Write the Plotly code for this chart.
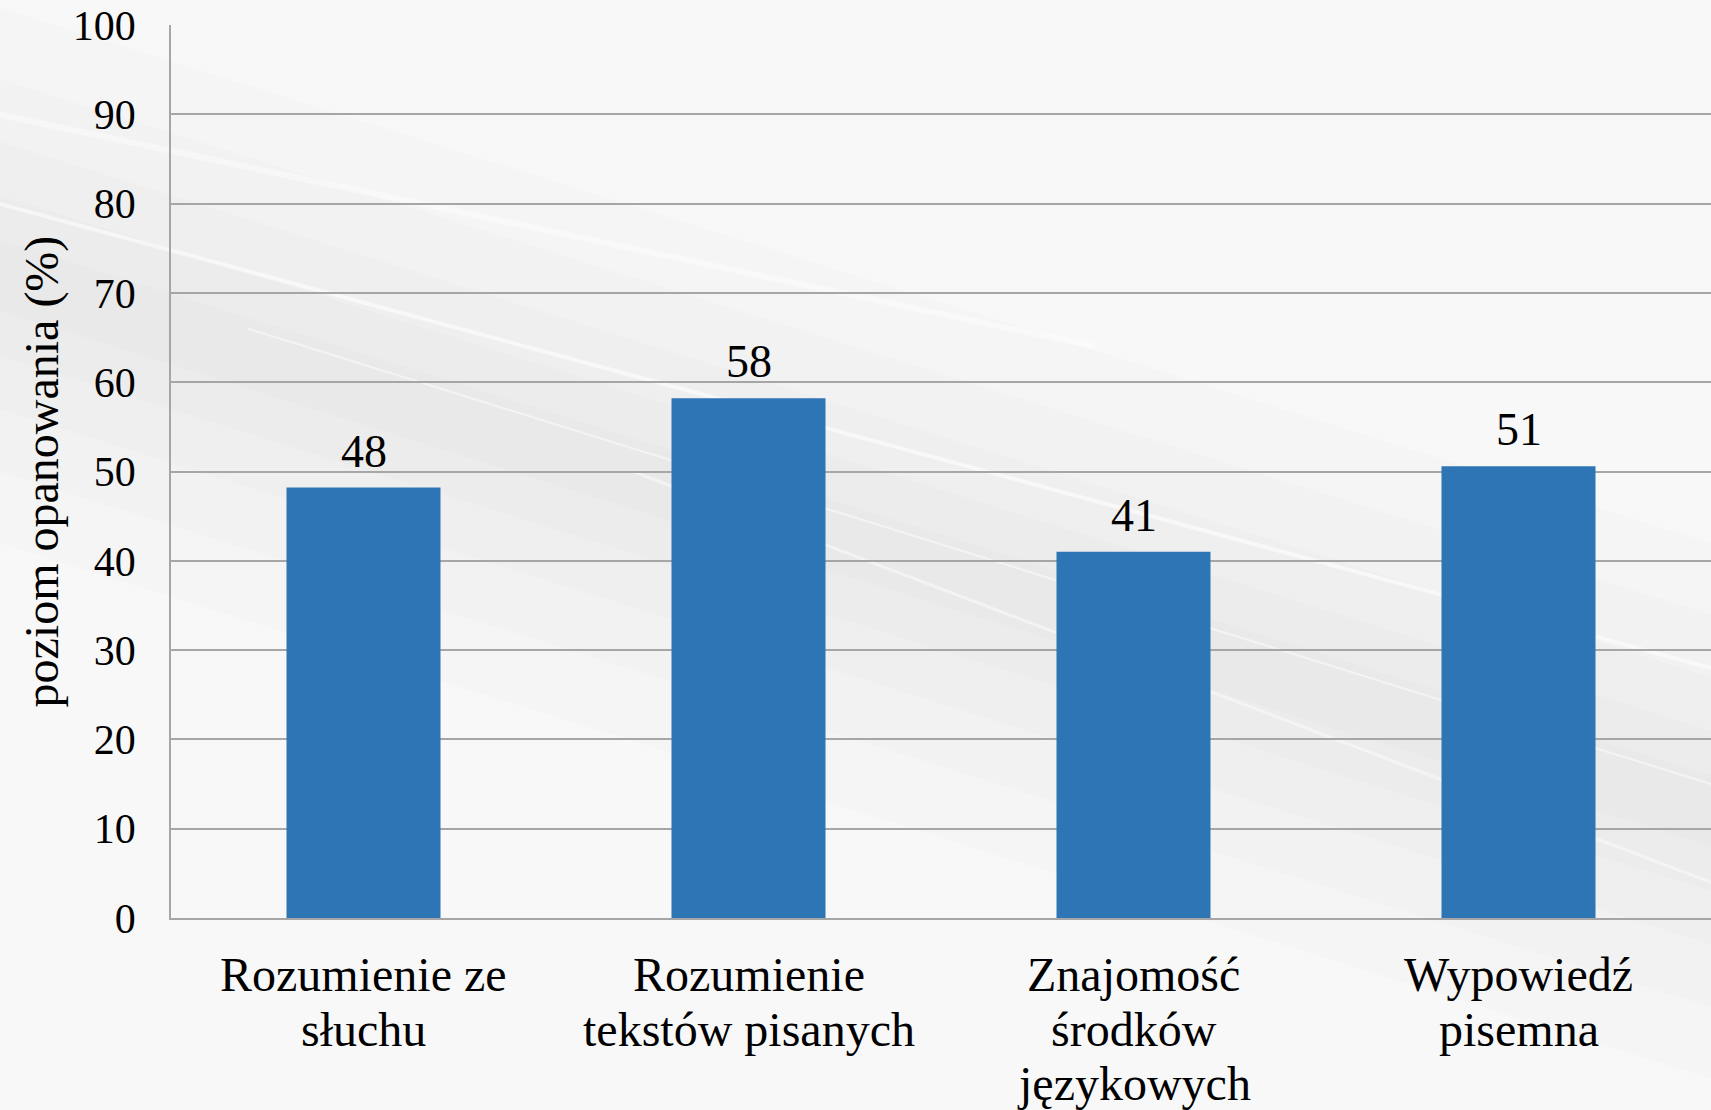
import plotly.graph_objects as go

categories = ["Rozumienie ze słuchu", "Rozumienie tekstów pisanych",
              "Znajomość środków językowych", "Wypowiedź pisemna"]
label_lines = [["Rozumienie ze", "słuchu"],
               ["Rozumienie", "tekstów pisanych"],
               ["Znajomość", "środków", "językowych"],
               ["Wypowiedź", "pisemna"]]
values = [48.2, 58.2, 41.0, 50.6]
y_ticks = [0, 10, 20, 30, 40, 50, 60, 70, 80, 90, 100]
y_title = "poziom opanowania (%)"

FONT = "Liberation Serif, Times New Roman, serif"
GRID = "#a6a6a6"

fig = go.Figure()

# decorative background: soft diagonal gray band made of stacked translucent strips
xl, xr = -0.112, 1.0
yl, yr = 0.72, 0.12  # band centre line (paper coords) at left/right edges
for half in [0.30, 0.22, 0.15, 0.09, 0.04]:
    fig.add_shape(type="path", xref="paper", yref="paper", layer="below",
                  path=f"M {xl} {yl + half} L {xr} {yr + half} L {xr} {yr - half} L {xl} {yl - half} Z",
                  fillcolor="rgba(0,0,0,0.011)", line=dict(width=0))
# faint white streaks
for (x0, y0, x1, y1, w, a) in [(-0.112, 0.80, 1.0, 0.28, 4, 0.55),
                               (0.05, 0.66, 1.0, 0.15, 2, 0.5),
                               (0.30, 0.50, 1.0, 0.04, 3, 0.45),
                               (-0.112, 0.90, 0.6, 0.64, 6, 0.4)]:
    fig.add_shape(type="line", xref="paper", yref="paper", layer="below",
                  x0=x0, y0=y0, x1=x1, y1=y1,
                  line=dict(color=f"rgba(255,255,255,{a})", width=w))

fig.add_trace(go.Bar(
    x=categories, y=values,
    marker=dict(color="#2e75b6", line=dict(width=0)),
    width=0.4, hoverinfo="x+y",
))

# value labels above bars
for c, v in zip(categories, values):
    fig.add_annotation(x=c, y=v, xref="x", yref="y", text=f"{v:.0f}",
                       showarrow=False, yanchor="bottom", yshift=9,
                       font=dict(family=FONT, size=46, color="#000000"))

# category labels below axis
for c, lines in zip(categories, label_lines):
    for j, line in enumerate(lines):
        fig.add_annotation(x=c, y=0, xref="x", yref="paper", text=line,
                           showarrow=False, yanchor="top",
                           yshift=-(28 + 54.5 * j),
                           font=dict(family=FONT, size=48, color="#000000"))

# y-axis title
fig.add_annotation(x=0, y=0.5, xref="paper", yref="paper", text=y_title,
                   showarrow=False, textangle=-90, xanchor="center", yanchor="middle",
                   xshift=-130, font=dict(family=FONT, size=48, color="#000000"))

fig.update_layout(
    width=1711, height=1110,
    margin=dict(l=171, r=0, t=25, b=192, pad=0),
    paper_bgcolor="#f8f8f8", plot_bgcolor="rgba(0,0,0,0)",
    showlegend=False,
    font=dict(family=FONT, color="#000000"),
)
fig.update_yaxes(
    range=[0, 100], tickvals=y_ticks, ticktext=[str(v) for v in y_ticks],
    showgrid=True, gridcolor=GRID, gridwidth=1.5,
    showline=True, linecolor=GRID, linewidth=1.5,
    tickfont=dict(size=42, family=FONT), ticks="", ticklabelstandoff=25,
    zeroline=False,
)
fig.update_xaxes(
    range=[-0.5, 3.5],
    showline=True, linecolor=GRID, linewidth=1.5,
    showticklabels=False, ticks="",
)

fig.write_html("out.html", config={"displayModeBar": False},
               post_script="document.body.style.margin='0';")
